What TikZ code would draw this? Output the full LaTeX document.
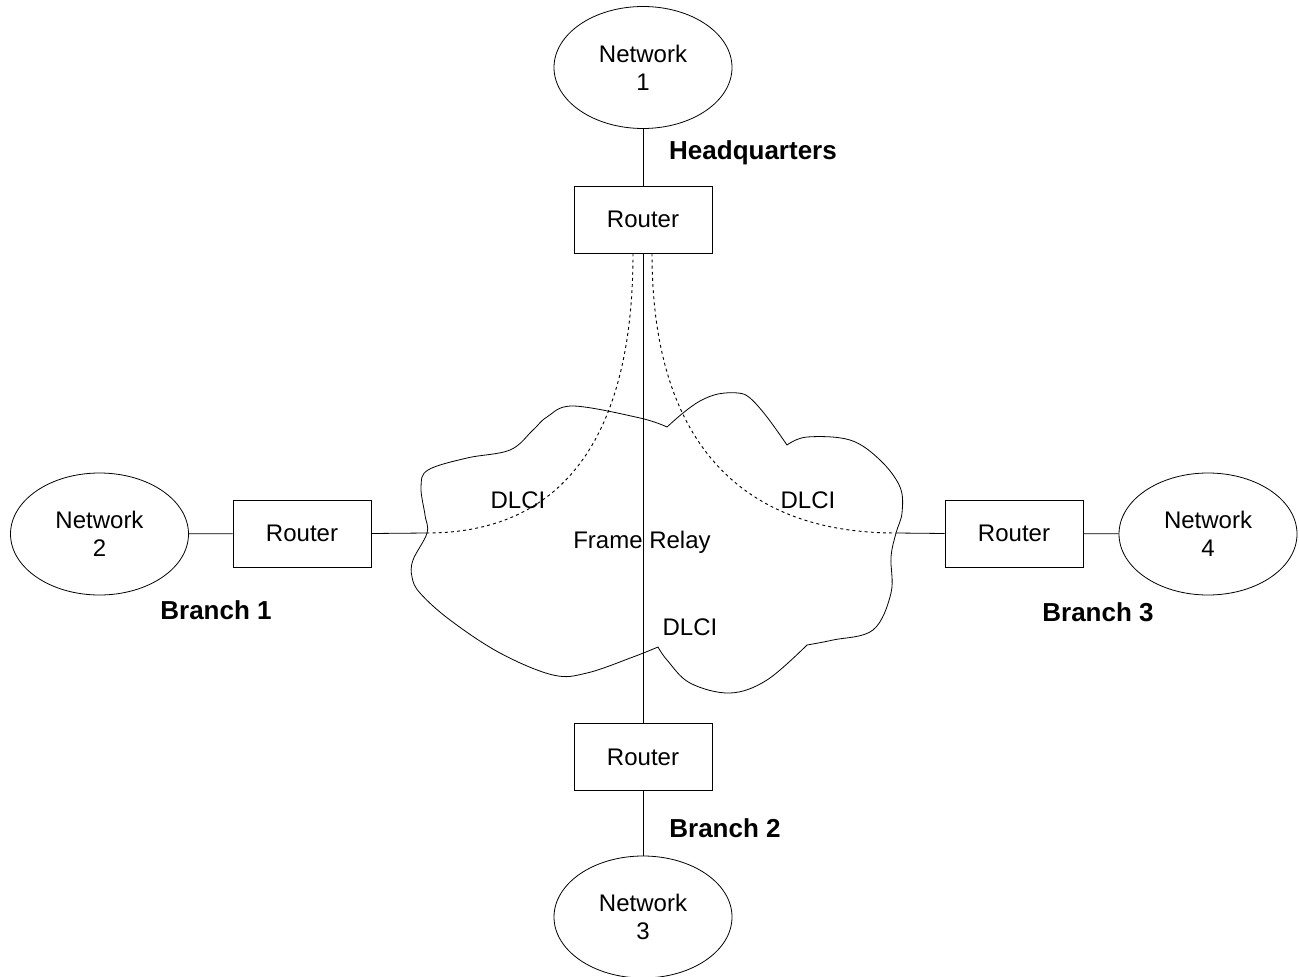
\documentclass[tikz,border=0pt]{standalone}
\usepackage{fontspec}
\setmainfont{Liberation Sans}
\usetikzlibrary{shapes.geometric}
\begin{document}
\begin{tikzpicture}[x=0.75pt,y=-0.75pt,line width=0.6pt,
  net/.style={draw,ellipse,minimum width=133.5pt,minimum height=91.5pt,inner sep=0pt,align=center,font=\fontsize{18}{21}\selectfont},
  router/.style={draw,rectangle,minimum width=103.5pt,minimum height=50.25pt,inner sep=0pt,font=\fontsize{18}{21}\selectfont},
  site/.style={font=\fontsize{19.5}{22}\selectfont\bfseries},
  lbl/.style={font=\fontsize{18}{21}\selectfont},
  vc/.style={line width=0.7pt,dash pattern=on 2.2pt off 2.4pt}]
\useasboundingbox (0,0) rectangle (1299,977);
% cloud
\draw plot[smooth,tension=0.6] coordinates {(667,427) (640,418) (573,406) (547,417) (533,430) (510,450) (467,458) (428,470) (421,487) (425,515) (427,533) (413,560) (412,577) (420,593) (450,620) (500,653) (553,675) (587,673) (633,657) (658,647)}
  -- plot[smooth,tension=0.6] coordinates {(658,647) (667,660) (690,683) (730,693) (767,680) (807,645)}
  -- plot[smooth,tension=0.6] coordinates {(807,645) (833,640) (873,630) (891,593) (891,557) (896,533) (902,513) (900,487) (880,460) (850,440) (807,437) (787,445)}
  -- plot[smooth,tension=0.6] coordinates {(787,445) (767,417) (750,398) (738,393) (718,394) (700,401) (683,413) (667,427)};
\coordinate (cl) at (427,533);
\coordinate (cr) at (896,533);
% nodes
\node[net] (n1) at (643,67.5) {Network\\1};
\node[net] (n2) at (99.5,534) {Network\\2};
\node[net] (n3) at (643,917) {Network\\3};
\node[net] (n4) at (1208,534) {Network\\4};
\node[router] (r0) at (643,219.5) {Router};
\node[router] (r1) at (302,533.5) {Router};
\node[router] (r2) at (643,757) {Router};
\node[router] (r3) at (1014,533.5) {Router};
\node[site] (hq) at (753,153) {Headquarters};
\node[site] (b1) at (216,610) {Branch 1};
\node[site] (b2) at (725,828) {Branch 2};
\node[site] (b3) at (1098,612) {Branch 3};
\node[lbl] (d1) at (518,500) {DLCI};
\node[lbl] (d3) at (808,500) {DLCI};
\node[lbl] (d2) at (690,627) {DLCI};
\node[lbl] (fr) at (642,542) {Frame Relay};
% connectors
\draw (n1) -- (r0);
\draw (r2) -- (n3);
\draw (n2) -- (r1);
\draw (r1.east) -- (cl);
\draw (r3) -- (n4);
\draw (r3.west) -- (cr);
\draw (r0) -- (r2);
\draw[vc] ([xshift=-7.5pt]r0.south) .. controls ++(0,187.5) and (560,533) .. (cl);
\draw[vc] ([xshift=6.75pt]r0.south) .. controls ++(0,187.5) and (740,533) .. (cr);
\end{tikzpicture}
\end{document}
